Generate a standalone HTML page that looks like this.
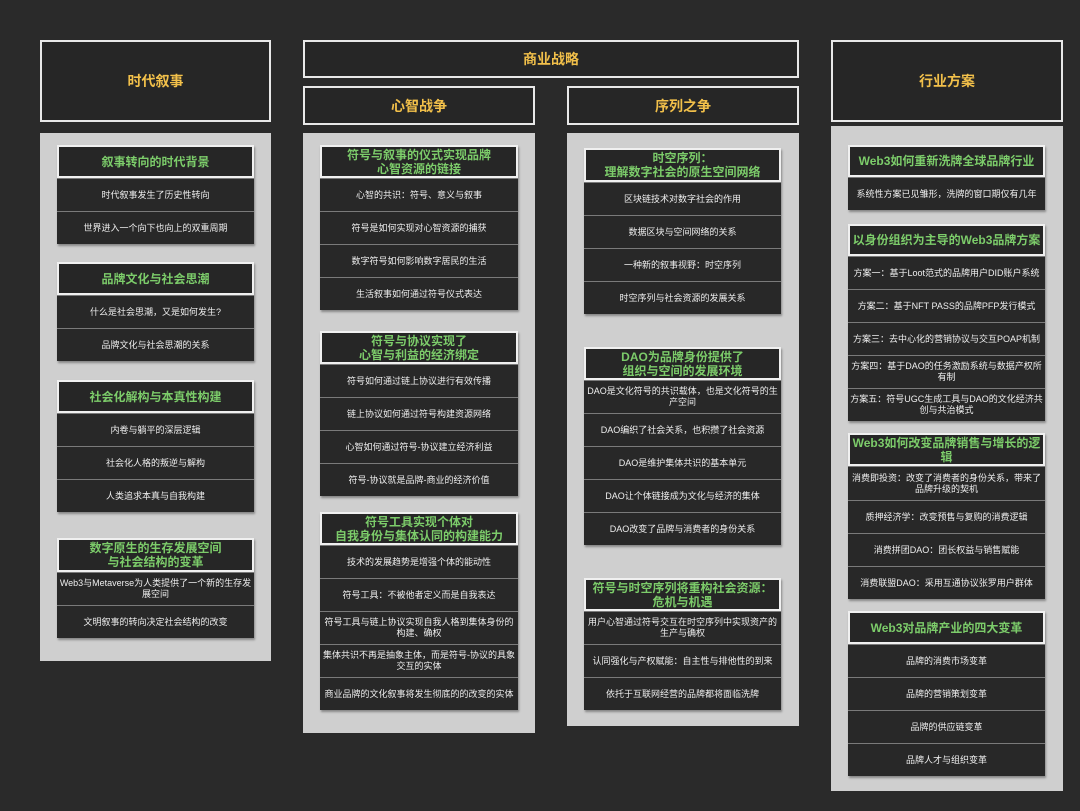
<!DOCTYPE html>
<html><head><meta charset="utf-8"><style>
*{box-sizing:border-box;margin:0;padding:0}
body{width:1080px;height:811px;background:#2a2a2a;position:relative;overflow:hidden;font-family:"Liberation Sans","Noto Sans CJK SC",sans-serif}
.top{position:absolute;border:2px solid #e8e8e8;background:#262626;color:#f2c04a;font-weight:bold;font-size:14px;display:flex;align-items:center;justify-content:center}
.panel{position:absolute;background:#cfcfcf}
.sec{position:absolute;display:flex;flex-direction:column;box-shadow:1px 2px 2px rgba(0,0,0,.35)}
.h{border:2px solid #f0f0f0;background:#262626;color:#7ccc6a;font-weight:bold;font-size:12px;line-height:14px;display:flex;align-items:center;justify-content:center;text-align:center;white-space:nowrap;overflow:visible}
.i{background:#282828;color:#eee;font-size:9px;line-height:11px;display:flex;align-items:center;justify-content:center;text-align:center;border-top:1px solid #7a7a7a;padding:0 1px}
</style></head><body>
<div class="top" style="left:40px;top:40px;width:231px;height:82px">时代叙事</div>
<div class="top" style="left:303px;top:40px;width:496px;height:38px">商业战略</div>
<div class="top" style="left:303px;top:86px;width:232px;height:39px">心智战争</div>
<div class="top" style="left:567px;top:86px;width:232px;height:39px">序列之争</div>
<div class="top" style="left:831px;top:40px;width:232px;height:82px">行业方案</div>

<div class="panel" style="left:40px;top:133px;width:231px;height:528px"></div>
<div class="panel" style="left:303px;top:133px;width:232px;height:600px"></div>
<div class="panel" style="left:567px;top:133px;width:232px;height:593px"></div>
<div class="panel" style="left:831px;top:126px;width:232px;height:665px"></div>

<!-- col1 -->
<div class="sec" style="left:57px;top:145px;width:197px"><div class="h" style="height:33px">叙事转向的时代背景</div><div class="i" style="height:33px">时代叙事发生了历史性转向</div><div class="i" style="height:33px">世界进入一个向下也向上的双重周期</div></div>
<div class="sec" style="left:57px;top:262px;width:197px"><div class="h" style="height:33px">品牌文化与社会思潮</div><div class="i" style="height:33px">什么是社会思潮，又是如何发生?</div><div class="i" style="height:33px">品牌文化与社会思潮的关系</div></div>
<div class="sec" style="left:57px;top:380px;width:197px"><div class="h" style="height:33px">社会化解构与本真性构建</div><div class="i" style="height:33px">内卷与躺平的深层逻辑</div><div class="i" style="height:33px">社会化人格的叛逆与解构</div><div class="i" style="height:33px">人类追求本真与自我构建</div></div>
<div class="sec" style="left:57px;top:538px;width:197px"><div class="h" style="height:34px">数字原生的生存发展空间<br>与社会结构的变革</div><div class="i" style="height:33px">Web3与Metaverse为人类提供了一个新的生存发展空间</div><div class="i" style="height:33px">文明叙事的转向决定社会结构的改变</div></div>

<!-- col2 -->
<div class="sec" style="left:320px;top:145px;width:198px"><div class="h" style="height:33px">符号与叙事的仪式实现品牌<br>心智资源的链接</div><div class="i" style="height:33px">心智的共识：符号、意义与叙事</div><div class="i" style="height:33px">符号是如何实现对心智资源的捕获</div><div class="i" style="height:33px">数字符号如何影响数字居民的生活</div><div class="i" style="height:33px">生活叙事如何通过符号仪式表达</div></div>
<div class="sec" style="left:320px;top:331px;width:198px"><div class="h" style="height:33px">符号与协议实现了<br>心智与利益的经济绑定</div><div class="i" style="height:33px">符号如何通过链上协议进行有效传播</div><div class="i" style="height:33px">链上协议如何通过符号构建资源网络</div><div class="i" style="height:33px">心智如何通过符号-协议建立经济利益</div><div class="i" style="height:33px">符号-协议就是品牌-商业的经济价值</div></div>
<div class="sec" style="left:320px;top:512px;width:198px"><div class="h" style="height:33px">符号工具实现个体对<br>自我身份与集体认同的构建能力</div><div class="i" style="height:33px">技术的发展趋势是增强个体的能动性</div><div class="i" style="height:33px">符号工具：不被他者定义而是自我表达</div><div class="i" style="height:33px">符号工具与链上协议实现自我人格到集体身份的构建、确权</div><div class="i" style="height:33px">集体共识不再是抽象主体，而是符号-协议的具象交互的实体</div><div class="i" style="height:33px">商业品牌的文化叙事将发生彻底的的改变的实体</div></div>

<!-- col3 -->
<div class="sec" style="left:584px;top:148px;width:197px"><div class="h" style="height:34px">时空序列：<br>理解数字社会的原生空间网络</div><div class="i" style="height:33px">区块链技术对数字社会的作用</div><div class="i" style="height:33px">数据区块与空间网络的关系</div><div class="i" style="height:33px">一种新的叙事视野：时空序列</div><div class="i" style="height:33px">时空序列与社会资源的发展关系</div></div>
<div class="sec" style="left:584px;top:347px;width:197px"><div class="h" style="height:33px">DAO为品牌身份提供了<br>组织与空间的发展环境</div><div class="i" style="height:33px">DAO是文化符号的共识载体，也是文化符号的生产空间</div><div class="i" style="height:33px">DAO编织了社会关系，也积攒了社会资源</div><div class="i" style="height:33px">DAO是维护集体共识的基本单元</div><div class="i" style="height:33px">DAO让个体链接成为文化与经济的集体</div><div class="i" style="height:33px">DAO改变了品牌与消费者的身份关系</div></div>
<div class="sec" style="left:584px;top:578px;width:197px"><div class="h" style="height:33px">符号与时空序列将重构社会资源：<br>危机与机遇</div><div class="i" style="height:33px">用户心智通过符号交互在时空序列中实现资产的生产与确权</div><div class="i" style="height:33px">认同强化与产权赋能：自主性与排他性的到来</div><div class="i" style="height:33px">依托于互联网经营的品牌都将面临洗牌</div></div>

<!-- col4 -->
<div class="sec" style="left:848px;top:145px;width:197px"><div class="h" style="height:32px">Web3如何重新洗牌全球品牌行业</div><div class="i" style="height:33px">系统性方案已见雏形，洗牌的窗口期仅有几年</div></div>
<div class="sec" style="left:848px;top:224px;width:197px"><div class="h" style="height:32px">以身份组织为主导的Web3品牌方案</div><div class="i" style="height:33px">方案一：基于Loot范式的品牌用户DID账户系统</div><div class="i" style="height:33px">方案二：基于NFT PASS的品牌PFP发行模式</div><div class="i" style="height:33px">方案三：去中心化的营销协议与交互POAP机制</div><div class="i" style="height:33px">方案四：基于DAO的任务激励系统与数据产权所有制</div><div class="i" style="height:33px">方案五：符号UGC生成工具与DAO的文化经济共创与共治模式</div></div>
<div class="sec" style="left:848px;top:433px;width:197px"><div class="h" style="height:33px">Web3如何改变品牌销售与增长的逻<br>辑</div><div class="i" style="height:34px">消费即投资：改变了消费者的身份关系，带来了品牌升级的契机</div><div class="i" style="height:33px">质押经济学：改变预售与复购的消费逻辑</div><div class="i" style="height:33px">消费拼团DAO：团长权益与销售赋能</div><div class="i" style="height:33px">消费联盟DAO：采用互通协议张罗用户群体</div></div>
<div class="sec" style="left:848px;top:611px;width:197px"><div class="h" style="height:33px">Web3对品牌产业的四大变革</div><div class="i" style="height:33px">品牌的消费市场变革</div><div class="i" style="height:33px">品牌的营销策划变革</div><div class="i" style="height:33px">品牌的供应链变革</div><div class="i" style="height:33px">品牌人才与组织变革</div></div>
</body></html>
